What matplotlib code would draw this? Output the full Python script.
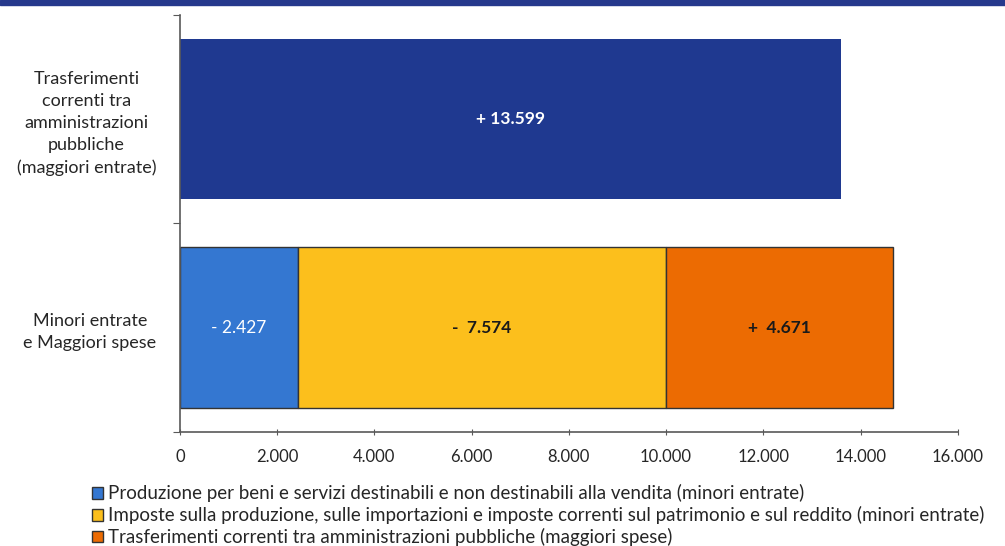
import matplotlib.pyplot as plt
from matplotlib.patches import Rectangle

plt.rcParams['font.family'] = ['Lato', 'DejaVu Sans']

categories = ['Minori entrate\ne Maggiori spese',
              'Trasferimenti\ncorrenti tra\namministrazioni\npubbliche\n(maggiori entrate)']
top_value = 13599
top_label = '+ 13.599'
series_names = ['Produzione per beni e servizi destinabili e non destinabili alla vendita (minori entrate)',
                'Imposte sulla produzione, sulle importazioni e imposte correnti sul patrimonio e sul reddito (minori entrate)',
                'Trasferimenti correnti tra amministrazioni pubbliche (maggiori spese)']
series_values = [2427, 7574, 4671]
series_labels = ['- 2.427', '-  7.574', '+  4.671']
series_colors = ['#3477d1', '#fcbf1c', '#ec6b02']
label_colors = ['white', '#1a1a1a', '#1a1a1a']
xticks = [0, 2000, 4000, 6000, 8000, 10000, 12000, 14000, 16000]
xtick_labels = ['0', '2.000', '4.000', '6.000', '8.000', '10.000', '12.000', '14.000', '16.000']

fig = plt.figure(figsize=(10.05, 5.46), dpi=100)
ax = fig.add_axes([0.179, 0.209, 0.774, 0.764])

bar_h = 0.77
# top bar
ax.barh(1, top_value, height=bar_h, color='#1f3990', edgecolor='none')
ax.text(top_value / 2, 1, top_label, ha='center', va='center', color='white',
        fontsize=12.5, fontweight='bold')

# stacked bar
left = 0
handles = []
for name, val, lab, col, lc in zip(series_names, series_values, series_labels, series_colors, label_colors):
    b = ax.barh(0, val, left=left, height=bar_h, color=col, edgecolor='#333333',
                linewidth=1.0, label=name)
    handles.append(b)
    ax.text(left + val / 2, 0, lab, ha='center', va='center', color=lc, fontsize=12.5,
            fontweight='bold' if lc != 'white' else 'normal')
    left += val

ax.set_xlim(0, 16000)
ax.set_ylim(-0.5, 1.5)
ax.set_xticks(xticks)
ax.set_xticklabels(xtick_labels, fontsize=12, color='#262626')

ax.set_yticks([-0.5, 0.5, 1.5])
ax.set_yticklabels([])
ax.set_yticks([0, 1], minor=True)
ax.set_yticklabels(categories, minor=True, fontsize=13, color='#262626',
                   multialignment='center', linespacing=1.45)
ax.tick_params(axis='y', which='minor', length=0, pad=17)
ax.tick_params(axis='y', which='major', length=5, color='#595959', direction='out')
ax.tick_params(axis='x', length=5, color='#595959', direction='inout', pad=10)

for s in ['top', 'right']:
    ax.spines[s].set_visible(False)
for s in ['left', 'bottom']:
    ax.spines[s].set_color('#595959')
    ax.spines[s].set_linewidth(1.2)

# dark header stripe
fig.add_artist(Rectangle((0, 0.99), 1, 0.01, transform=fig.transFigure,
                         color='#26398c', zorder=10))

fig.legend(handles=handles, loc='upper left', bbox_to_anchor=(0.082, 0.13),
           frameon=False, fontsize=13.5, handlelength=0.6, handleheight=0.6,
           handletextpad=0.25, labelspacing=0.2, borderpad=0, labelcolor='#262626')

fig.savefig('out.png', dpi=100)
